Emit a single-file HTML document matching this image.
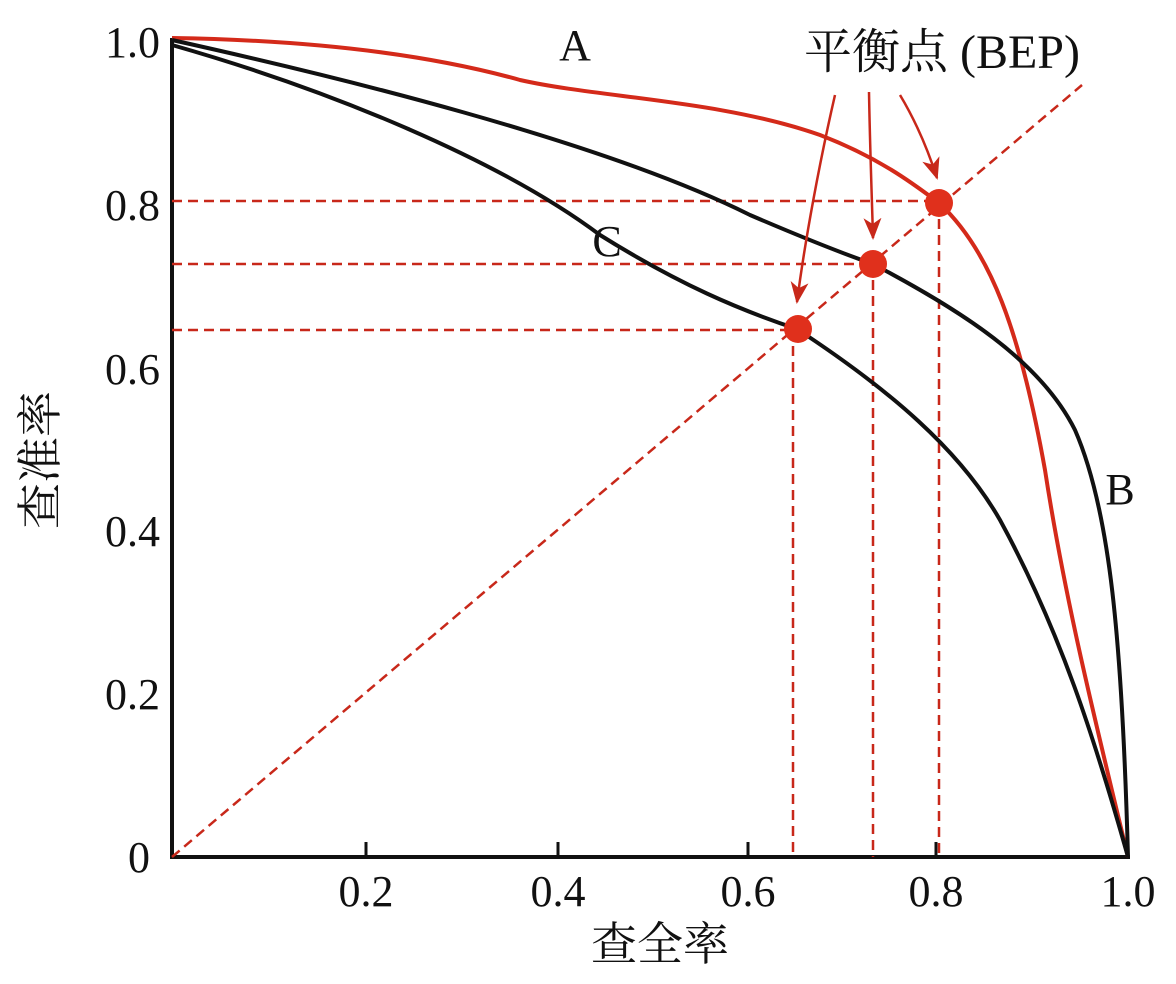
<!DOCTYPE html>
<html><head><meta charset="utf-8"><style>
body{margin:0;background:#fff}
text{font-family:"Liberation Serif","Noto Serif CJK SC",serif}
</style></head><body>
<svg width="1176" height="979" viewBox="0 0 1176 979" xmlns="http://www.w3.org/2000/svg">
<defs>
<marker id="ar2" markerWidth="22" markerHeight="22" refX="20" refY="11" orient="auto" markerUnits="userSpaceOnUse"><path d="M0,2 L22,11 L0,20 L6,11 Z" fill="#c8281a"/></marker></defs>
<g fill="none" stroke-width="4" stroke="#111">
<line x1="172" y1="38" x2="172" y2="859"/>
<line x1="170" y1="857" x2="1130" y2="857"/>
</g>
<g stroke="#111" stroke-width="3">
<line x1="366" y1="857" x2="366" y2="842"/><line x1="558" y1="857" x2="558" y2="842"/>
<line x1="748" y1="857" x2="748" y2="842"/><line x1="936" y1="857" x2="936" y2="842"/>
</g>
<g stroke="#c8281a" stroke-width="2.5" stroke-dasharray="10,6" fill="none">
<line x1="172" y1="201" x2="939" y2="201"/>
<line x1="172" y1="264" x2="873" y2="264"/>
<line x1="172" y1="330" x2="797" y2="330"/>
<line x1="793" y1="330" x2="793" y2="857"/>
<line x1="873" y1="264" x2="873" y2="857"/>
<line x1="939" y1="203" x2="939" y2="857"/>
<line x1="172" y1="857" x2="1082" y2="85"/>
</g>
<path d="M172,38 C300,40 420,52 520,80 C600,98 720,100 820,135 C880,158 915,185 939,203 C990,250 1020,330 1045,470 C1065,600 1095,720 1128,857" fill="none" stroke="#d42a1a" stroke-width="4"/>
<path d="M172,40 C330,75 600,140 750,215 C820,245 850,256 873,264 C960,310 1040,360 1075,430 C1110,510 1122,640 1128,857" fill="none" stroke="#111" stroke-width="4"/>
<path d="M172,45 C330,90 500,160 600,235 C680,285 740,310 797,329 C890,390 960,450 1000,520 C1060,630 1095,740 1128,857" fill="none" stroke="#111" stroke-width="4"/>
<g fill="#e0301c"><circle cx="939" cy="203" r="14"/><circle cx="873" cy="264" r="14"/><circle cx="798" cy="329" r="14"/></g>
<g stroke="#c8281a" stroke-width="2.5" fill="none">
<path d="M835,95 C820,160 805,240 797,302" marker-end="url(#ar2)"/>
<path d="M869,92 C870,150 872,200 873,238" marker-end="url(#ar2)"/>
<path d="M900,95 C915,120 928,150 937,178" marker-end="url(#ar2)"/>
</g>
<g font-size="44" fill="#111">
<text x="160" y="57" text-anchor="end">1.0</text>
<text x="160" y="220" text-anchor="end">0.8</text>
<text x="160" y="384" text-anchor="end">0.6</text>
<text x="160" y="546" text-anchor="end">0.4</text>
<text x="160" y="709" text-anchor="end">0.2</text>
<text x="150" y="872" text-anchor="end">0</text>
<text x="366" y="906" text-anchor="middle">0.2</text>
<text x="558" y="906" text-anchor="middle">0.4</text>
<text x="748" y="906" text-anchor="middle">0.6</text>
<text x="936" y="906" text-anchor="middle">0.8</text>
<text x="1128" y="906" text-anchor="middle">1.0</text>
<text x="575" y="60" text-anchor="middle">A</text>
<text x="607" y="256" text-anchor="middle">C</text>
<text x="1120" y="504" text-anchor="middle">B</text>
<text x="942" y="68" text-anchor="middle" font-size="48">平衡点 (BEP)</text>
<text x="660" y="960" text-anchor="middle" font-size="46">查全率</text>
<text transform="translate(56,460) rotate(-90)" text-anchor="middle" font-size="46">查准率</text>
</g>
</svg>
</body></html>
